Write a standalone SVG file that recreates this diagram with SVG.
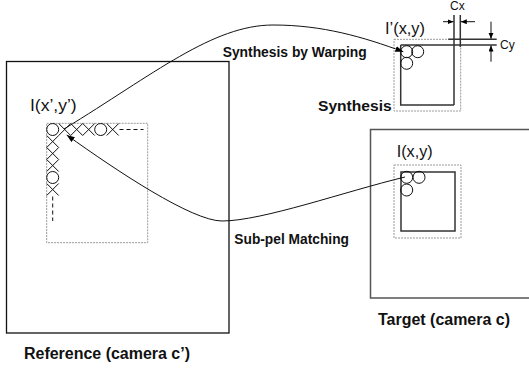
<svg xmlns="http://www.w3.org/2000/svg" width="529" height="370" viewBox="0 0 529 370">
<defs>
<marker id="ah" markerUnits="userSpaceOnUse" markerWidth="9" markerHeight="7" refX="8" refY="3" orient="auto">
<path d="M0,0 L8,3 L0,6 z" fill="#000"/>
</marker>
<marker id="sa" markerUnits="userSpaceOnUse" markerWidth="7" markerHeight="6" refX="6" refY="2.5" orient="auto">
<path d="M0,0 L6,2.5 L0,5 z" fill="#000"/>
</marker>
</defs>
<style>
.bold{font-family:"Liberation Sans",Arial,sans-serif;font-weight:bold;fill:#111}
.reg{font-family:"Liberation Sans",Arial,sans-serif;fill:#111}
.outer{fill:none;stroke:#111;stroke-width:1.3}
.dot{fill:none;stroke:#999;stroke-width:1;stroke-dasharray:2,1}
.inner{fill:none;stroke:#333;stroke-width:1.5}
.cell{fill:none;stroke:#111;stroke-width:1}
.dash{fill:none;stroke:#111;stroke-width:1;stroke-dasharray:4,3}
.conn{fill:none;stroke:#111;stroke-width:1}
</style>
<rect width="529" height="370" fill="#fff"/>
<g id="reference">
<rect class="outer" x="6.5" y="61.5" width="222.5" height="271.5"/>
<rect class="dot" x="46.7" y="123.3" width="101" height="119.4"/>
<text class="reg" x="30" y="111" font-size="16" textLength="46.7" lengthAdjust="spacingAndGlyphs">I(x’,y’)</text>
<circle class="cell" cx="52.7" cy="129.5" r="6"/>
<path class="cell" d="M58.7,123.5 L70.7,135.5 M58.7,135.5 L70.7,123.5 M70.7,123.5 L82.7,135.5 M70.7,135.5 L82.7,123.5 M82.7,123.5 L94.7,135.5 M82.7,135.5 L94.7,123.5 M106.7,123.5 L118.7,135.5 M106.7,135.5 L118.7,123.5"/>
<circle class="cell" cx="100.7" cy="129.5" r="6"/>
<path class="dash" d="M119.5,129.5 H143.5"/>
<path class="cell" d="M46.7,135.5 L58.7,147.5 M58.7,135.5 L46.7,147.5 M46.7,147.5 L58.7,159.5 M58.7,147.5 L46.7,159.5 M46.7,159.5 L58.7,171.5 M58.7,159.5 L46.7,171.5 M46.7,183.5 L58.7,195.5 M58.7,183.5 L46.7,195.5"/>
<circle class="cell" cx="52.7" cy="177.5" r="6"/>
<path class="dash" d="M52.7,196.5 V221"/>
<text class="bold" x="24" y="359.3" font-size="16" textLength="166" lengthAdjust="spacingAndGlyphs">Reference (camera c’)</text>
</g>
<g id="synthesis">
<rect class="dot" x="394" y="39.3" width="66.7" height="71.7"/>
<path class="inner" d="M400.7,45 H496.7 M454,105 H400.7 V45 M454,15 V105 M460.3,15 V47 M448.3,39.3 H496.7"/>
<circle class="cell" cx="406.7" cy="51.7" r="6"/>
<circle class="cell" cx="417.7" cy="51.7" r="6"/>
<circle class="cell" cx="406.7" cy="63.3" r="6"/>
<text class="reg" x="385" y="33.5" font-size="16" textLength="40" lengthAdjust="spacingAndGlyphs">I’(x,y)</text>
<text class="bold" x="318" y="111" font-size="15.5" textLength="73.7" lengthAdjust="spacingAndGlyphs">Synthesis</text>
<path class="conn" d="M443,21.7 H453.5" marker-end="url(#sa)"/>
<path class="conn" d="M475,21.7 H460.8" marker-end="url(#sa)"/>
<path class="conn" d="M491,21.7 V38.8" marker-end="url(#sa)"/>
<path class="conn" d="M491,61.7 V45.5" marker-end="url(#sa)"/>
<text class="reg" x="450" y="10" font-size="12">Cx</text>
<text class="reg" x="500" y="48.5" font-size="12">Cy</text>
</g>
<g id="target">
<rect class="outer" x="370.5" y="129.5" width="162" height="168.5" style="stroke:#555;stroke-width:1.5"/>
<rect class="dot" x="394" y="165" width="67" height="73"/>
<rect class="inner" x="401" y="172" width="54" height="59"/>
<circle class="cell" cx="406.7" cy="177.3" r="6"/>
<circle class="cell" cx="419" cy="177.3" r="6"/>
<circle class="cell" cx="406.7" cy="190" r="6"/>
<text class="reg" x="396.7" y="157" font-size="16" textLength="36" lengthAdjust="spacingAndGlyphs">I(x,y)</text>
<text class="bold" x="378" y="325" font-size="16" textLength="132" lengthAdjust="spacingAndGlyphs">Target (camera c)</text>
</g>
<g id="connectors">
<path class="conn" d="M64,129 C154,74 213,25 273,25 C323,25 363,37 403.3,51.7" marker-end="url(#ah)"/>
<path class="conn" d="M405,177 C345,191.5 262,221 222,221 C192,221 117,171 66.7,135" marker-end="url(#ah)"/>
<text class="bold" x="222.7" y="56.7" font-size="13.8" textLength="144" lengthAdjust="spacingAndGlyphs">Synthesis by Warping</text>
<text class="bold" x="234.3" y="244" font-size="13.8" textLength="114.7" lengthAdjust="spacingAndGlyphs">Sub-pel Matching</text>
</g>
</svg>
